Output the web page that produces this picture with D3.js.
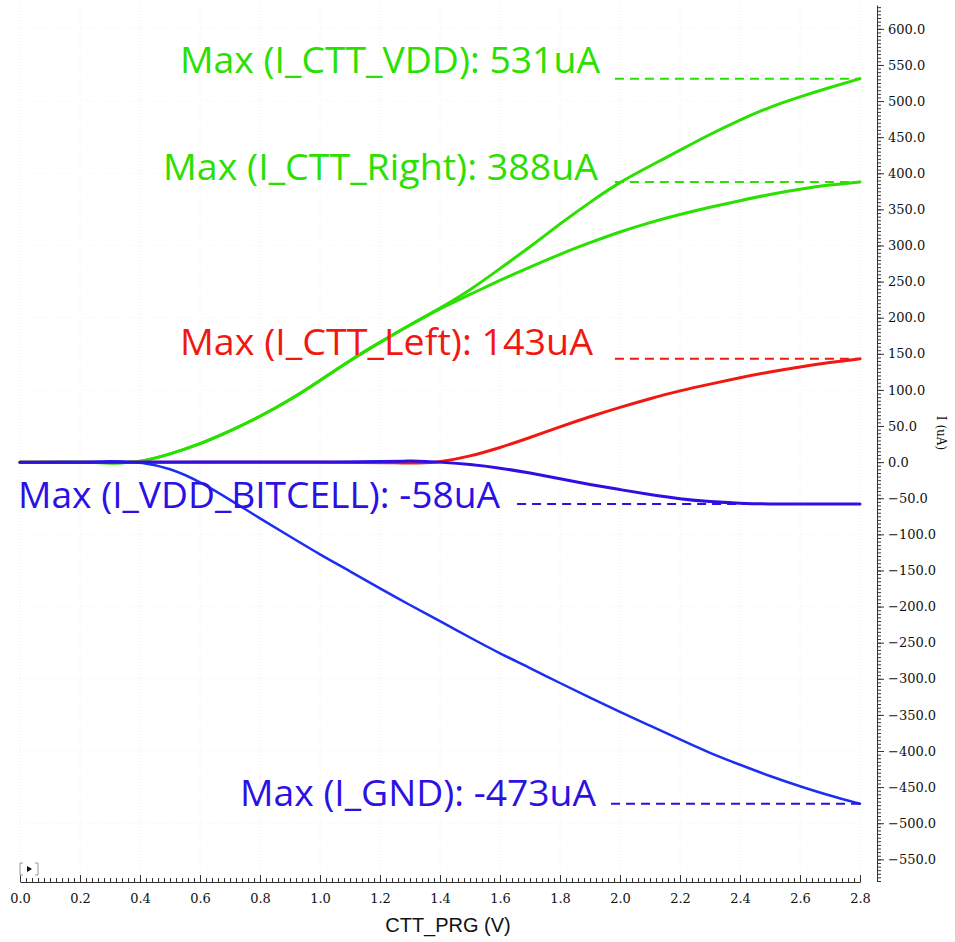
<!DOCTYPE html>
<html>
<head>
<meta charset="utf-8">
<script src="https://cdn.jsdelivr.net/npm/d3@7"></script>
<style>
  html, body { margin: 0; padding: 0; background: #fff; }
  svg { display: block; }
</style>
</head>
<body>
<script>
// values (V, uA)
const iCttVdd = [[0,0],[0.25,0],[0.3,-1.5],[0.35,-0.5],[0.4,0],[0.5,11],[0.6,25],[0.7,43],[0.8,63],[0.9,86],[1.0,113],[1.1,141],[1.2,166],[1.3,190],[1.4,213],[1.5,238],[1.6,268],[1.7,298],[1.8,330],[1.9,360],[2.0,388],[2.1,410],[2.2,432],[2.3,454],[2.4,474],[2.5,492],[2.6,506],[2.7,519],[2.8,531]];
const iCttRight = [[0,0],[0.25,0],[0.3,-1.5],[0.35,-0.5],[0.4,0],[0.5,11],[0.6,25],[0.7,43],[0.8,63],[0.9,86],[1.0,113],[1.1,141],[1.2,166],[1.3,190],[1.4,213],[1.5,232],[1.6,252],[1.7,270],[1.8,288],[1.9,304],[2.0,319],[2.1,332],[2.2,343],[2.3,353],[2.4,362],[2.5,371],[2.6,378],[2.7,384],[2.8,388]];
const iCttLeft = [[0,0],[1.2,0],[1.25,-1],[1.3,-1.5],[1.35,-1],[1.4,0],[1.5,8],[1.6,20],[1.7,34],[1.8,49],[1.9,63],[2.0,76],[2.1,88],[2.2,99],[2.3,108],[2.4,117],[2.5,125],[2.6,132],[2.7,138],[2.8,143]];
const iGnd = [[0,0],[0.25,0],[0.3,1.5],[0.35,0.5],[0.4,0],[0.5,-8],[0.6,-27],[0.7,-52],[0.8,-78],[0.9,-103],[1.0,-128],[1.1,-151],[1.2,-175],[1.3,-198],[1.4,-220],[1.5,-243],[1.6,-265],[1.7,-285],[1.8,-306],[1.9,-326],[2.0,-346],[2.1,-365],[2.2,-384],[2.3,-403],[2.4,-419],[2.5,-435],[2.6,-449],[2.7,-462],[2.8,-473]];
const iVddBitcell = [[0,0],[1.25,0],[1.3,2],[1.35,1],[1.4,0],[1.5,-3],[1.6,-8],[1.7,-15],[1.8,-23],[1.9,-31],[2.0,-38],[2.1,-45],[2.2,-51],[2.3,-55],[2.4,-57],[2.5,-58],[2.6,-58],[2.7,-58],[2.8,-58]];

const xTicks = d3.range(0, 15).map(i => i * 0.2);
const yTicks = d3.range(-11, 13).map(i => i * 50);

// annotations: text, max value, dashed line x range (V)
const annoText = ["Max (I_CTT_VDD): 531uA", "Max (I_CTT_Right): 388uA", "Max (I_CTT_Left): 143uA", "Max (I_VDD_BITCELL): -58uA", "Max (I_GND): -473uA"];
const annoValue = [531, 388, 143, -58, -473];
const annoDashFrom = [1.983, 1.983, 1.983, 1.657, 1.97];
const annoDashTo = [2.8, 2.8, 2.8, 2.467, 2.8];

const width = 955, height = 942;
const svg = d3.select("body").append("svg")
  .attr("width", width)
  .attr("height", height);

const x = d3.scaleLinear().domain([0, 2.8]).range([20, 860]);
const y = d3.scaleLinear().domain([-580, 633]).range([881, 5]);

// faint grid
svg.append("g")
  .selectAll("line")
  .data(xTicks)
  .join("line")
  .attr("x1", d => x(d)).attr("x2", d => x(d))
  .attr("y1", y(633)).attr("y2", 880)
  .attr("stroke", "#eaeaea")
  .attr("stroke-dasharray", "1,2");
svg.append("g")
  .selectAll("line")
  .data(yTicks.filter(v => v % 100 === 0 && v !== 0))
  .join("line")
  .attr("x1", 20).attr("x2", 860)
  .attr("y1", d => y(d)).attr("y2", d => y(d))
  .attr("stroke", "#f2f2f2")
  .attr("stroke-dasharray", "1,2");

// x axis, ticks point up
const xAxisY = 882;
svg.append("g")
  .attr("transform", "translate(0," + xAxisY + ")")
  .call(d3.axisBottom(x).tickValues(d3.range(0, 141).map(i => i * 0.02)).tickSize(-4).tickSizeOuter(0).tickFormat(""))
  .call(g => g.select(".domain").remove());
const xAxis = svg.append("g")
  .attr("transform", "translate(0," + xAxisY + ")")
  .call(d3.axisBottom(x).tickValues(xTicks).tickSize(-7).tickSizeOuter(0).tickPadding(12).tickFormat(d3.format(".1f")));
xAxis.selectAll("text")
  .attr("font-family", "DejaVu Serif")
  .attr("font-size", 13)
  .attr("fill", "#111");
svg.selectAll("g.tick line").attr("stroke", "#333");
xAxis.select(".domain").attr("stroke", "#333");

// y axis on the right
const yAxisX = 877;
svg.append("g")
  .attr("transform", "translate(" + yAxisX + ",0)")
  .call(d3.axisRight(y).tickValues(d3.range(-116, 127).map(i => i * 5)).tickSize(4).tickSizeOuter(0).tickFormat(""))
  .call(g => g.select(".domain").remove())
  .selectAll("line").attr("stroke", "#333");
const yAxis = svg.append("g")
  .attr("transform", "translate(" + yAxisX + ",0)")
  .call(d3.axisRight(y).tickValues(yTicks).tickSize(7).tickSizeOuter(0).tickPadding(4).tickFormat(d3.format(".1f")));
yAxis.selectAll("text")
  .attr("font-family", "DejaVu Serif")
  .attr("font-size", 13)
  .attr("fill", "#111");
yAxis.selectAll("line").attr("stroke", "#333");
yAxis.select(".domain").attr("stroke", "#333");

// axis titles
svg.append("text")
  .attr("x", 448)
  .attr("y", 932)
  .attr("text-anchor", "middle")
  .attr("font-family", "Liberation Sans, Arial, sans-serif")
  .attr("font-size", 20)
  .attr("fill", "#111")
  .text("CTT_PRG (V)");
svg.append("text")
  .attr("transform", "translate(937,433) rotate(90)")
  .attr("text-anchor", "middle")
  .attr("font-family", "DejaVu Serif")
  .attr("font-size", 12)
  .attr("fill", "#111")
  .text("I (uA)");

// little play button in the corner
const icon = svg.append("g").attr("transform", "translate(20,863)");
icon.append("path")
  .attr("d", "M3,0 H0 V12 H3 M15,0 H18 V12 H15")
  .attr("fill", "none")
  .attr("stroke", "#999");
icon.append("path")
  .attr("d", "M7,3 L12,6 L7,9 Z")
  .attr("fill", "#111");

// curves
const line = d3.line()
  .x(d => x(d[0]))
  .y(d => y(d[1]))
  .curve(d3.curveBasis);

function plotSeries(color, series, w) {
  svg.append("path")
    .datum(series)
    .attr("fill", "none")
    .attr("stroke", color)
    .attr("stroke-width", w)
    .attr("stroke-linejoin", "round")
    .attr("stroke-linecap", "round")
    .attr("d", line);
}

const green = "#2ae000", red = "#f01810", blue = "#2c10e4", gndBlue = "#1c2ef2";
plotSeries(green, iCttRight, 3);
plotSeries(green, iCttVdd, 3);
plotSeries(red, iCttLeft, 3);
plotSeries(gndBlue, iGnd, 2.5);
plotSeries(blue, iVddBitcell, 3);

// annotations
const annoColor = [green, green, red, blue, blue];
const annoX = [180, 163, 180, 18, 240];
const annoW = [420, 435, 413, 482, 356];
const annoBase = [73, 180, 355, 508, 806];

annoText.forEach((t, i) => {
  svg.append("text")
    .attr("x", annoX[i])
    .attr("y", annoBase[i])
    .attr("font-family", "Open Sans, sans-serif")
    .attr("font-size", 36)
    .attr("fill", annoColor[i])
    .attr("textLength", annoW[i])
    .attr("lengthAdjust", "spacingAndGlyphs")
    .text(t);
  svg.append("line")
    .attr("x1", x(annoDashFrom[i]))
    .attr("x2", x(annoDashTo[i]))
    .attr("y1", y(annoValue[i]))
    .attr("y2", y(annoValue[i]))
    .attr("stroke", annoColor[i])
    .attr("stroke-width", 2)
    .attr("stroke-dasharray", "9,6");
});
</script>
</body>
</html>
